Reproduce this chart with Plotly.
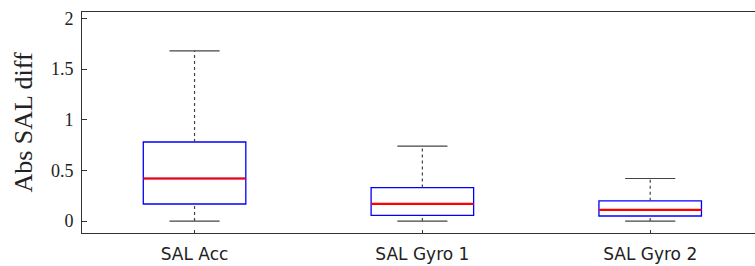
import plotly.graph_objects as go

categories = ["SAL Acc", "SAL Gyro 1", "SAL Gyro 2"]
positions = [0, 1, 2]
lower_whisker = [0.0, 0.0, 0.0]
q1 = [0.168, 0.056, 0.05]
median = [0.42, 0.17, 0.11]
q3 = [0.78, 0.33, 0.20]
upper_whisker = [1.68, 0.74, 0.42]

box_w = 0.45
cap_w = 0.22

fig = go.Figure()

# whiskers (dashed) and caps
for i, p in enumerate(positions):
    fig.add_trace(go.Scatter(x=[p, p], y=[q3[i], upper_whisker[i]], mode="lines",
                             line=dict(color="#444", width=1.2, dash="3px,3px"), showlegend=False, hoverinfo="skip"))
    fig.add_trace(go.Scatter(x=[p, p], y=[lower_whisker[i], q1[i]], mode="lines",
                             line=dict(color="#444", width=1.2, dash="3px,3px"), showlegend=False, hoverinfo="skip"))
    for v in (upper_whisker[i], lower_whisker[i]):
        fig.add_trace(go.Scatter(x=[p - cap_w / 2, p + cap_w / 2], y=[v, v], mode="lines",
                                 line=dict(color="#444", width=1.2), showlegend=False, hoverinfo="skip"))

# boxes
fig.add_trace(go.Box(x=positions, q1=q1, median=median, q3=q3,
                     lowerfence=q1, upperfence=q3, width=box_w, whiskerwidth=0,
                     line=dict(color="blue", width=1.3), fillcolor="white",
                     showlegend=False, hoverinfo="skip"))

# medians
for i, p in enumerate(positions):
    fig.add_trace(go.Scatter(x=[p - box_w / 2, p + box_w / 2], y=[median[i], median[i]], mode="lines",
                             line=dict(color="red", width=2.2), showlegend=False, hoverinfo="skip"))

fig.update_layout(
    width=755, height=266,
    margin=dict(l=82, r=0, t=12, b=33),
    plot_bgcolor="white", paper_bgcolor="white",
    showlegend=False,
)
fig.update_xaxes(
    range=[-0.494, 2.46], tickvals=positions, ticktext=categories,
    showline=True, linecolor="#333", linewidth=1, mirror=True,
    ticks="inside", ticklen=3, tickcolor="#333",
    showgrid=False, zeroline=False, automargin=False,
    ticklabelstandoff=6,
    tickfont=dict(family="DejaVu Sans", size=17, color="#222"),
)
fig.update_yaxes(
    range=[-0.118, 2.063], tickvals=[0, 0.5, 1, 1.5, 2], ticktext=["0", "0.5", "1", "1.5", "2"],
    showline=True, linecolor="#333", linewidth=1,
    ticks="inside", ticklen=5, tickcolor="#333",
    showgrid=False, zeroline=False, automargin=False,
    ticklabelstandoff=4,
    tickfont=dict(family="Liberation Serif", size=18, color="#222"),
    title=dict(text="Abs SAL diff", font=dict(family="Liberation Serif", size=26, color="#222"), standoff=10),
)

fig.write_html("out.html", config={"displayModeBar": False},
               post_script="document.body.style.margin='0';document.body.style.overflow='hidden';")
